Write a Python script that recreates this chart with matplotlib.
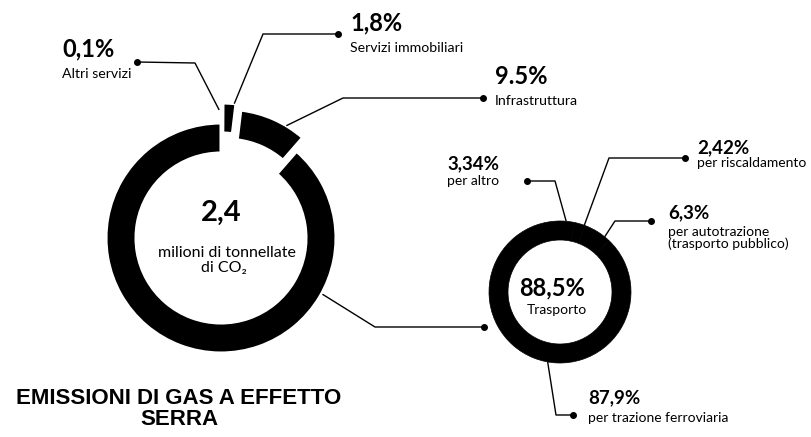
import numpy as np
import matplotlib
matplotlib.use("Agg")
import matplotlib.pyplot as plt

W, H = 811, 437

# emissioni totali per settore (%)
big_labels = ["Altri servizi", "Servizi immobiliari", "Infrastruttura", "Trasporto"]
big_values = [0.1, 1.8, 9.5, 88.5]
big_pct = ["0,1%", "1,8%", "9.5%", None]
big_explode = [20, 20, 15, 0]  # offset in pixels

# dettaglio del trasporto (%)
tr_labels = ["per altro", "per riscaldamento", "per autotrazione\n(trasporto pubblico)",
             "per trazione ferroviaria"]
tr_values = [3.34, 2.42, 6.3, 87.9]
tr_pct = ["3,34%", "2,42%", "6,3%", "87,9%"]

total_mt = "2,4"
trasporto_pct = "88,5%"

FONT = ["Lato", "DejaVu Sans"]


def yy(y):
    # pixel rows from the top -> data y
    return H - y


def ring_point(wedge, deg_from_top, r=None):
    cx, cy = wedge.center
    r = wedge.r if r is None else r
    a = np.deg2rad(90 - deg_from_top)
    return cx + r * np.cos(a), cy + r * np.sin(a)


def leader(ax, start, elbow, dot):
    xs = [start[0], elbow[0], dot[0]]
    ys = [start[1], yy(elbow[1]), yy(dot[1])]
    ax.plot(xs, ys, color="black", lw=1.0, solid_capstyle="butt", zorder=3)
    ax.plot(dot[0], yy(dot[1]), "o", color="black", ms=4, zorder=3)


fig = plt.figure(figsize=(W / 100, H / 100), dpi=100)
ax = fig.add_axes([0, 0, 1, 1])

# big ring
big_c = (221, yy(238))
big_w, _ = ax.pie(big_values, radius=115, center=big_c, startangle=90,
                  counterclock=False, explode=big_explode,
                  colors=["black"] * 4,
                  wedgeprops=dict(width=30, edgecolor="white", linewidth=2.2))

# small ring
tr_c = (560, yy(292))
tr_w, _ = ax.pie(tr_values, radius=71, center=tr_c, startangle=90,
                 counterclock=False, colors=["black"] * 4,
                 wedgeprops=dict(width=19, edgecolor="black", linewidth=0.5))

ax.set_xlim(0, W)
ax.set_ylim(0, H)
ax.set_aspect("equal")
ax.axis("off")

# leader lines: anchor angle/radius on each wedge, elbow, end dot (pixel rows)
big_anchor = [-1, 6, 31, 119]
big_r = [108, 115, 115, 116]
big_elbow = [(195, 63), (263, 34), (343, 98), (375, 327)]
big_dot = [(137, 62), (338, 34), (483, 98), (484, 327)]
for w, a, r, e, d in zip(big_w, big_anchor, big_r, big_elbow, big_dot):
    leader(ax, ring_point(w, a, r), e, d)

tr_anchor = [5, 20, 39, 190]
tr_elbow = [(555, 181), (609, 158), (615, 221), (556, 415)]
tr_dot = [(527, 181), (685, 158), (651, 221), (573, 415)]
for w, a, e, d in zip(tr_w, tr_anchor, tr_elbow, tr_dot):
    leader(ax, ring_point(w, a), e, d)

# labels for the big ring
big_txt_pos = [(62, 49, 74), (350, 23, 48), (495, 76, 101)]
for (x, y1, y2), pct, lab in zip(big_txt_pos, big_pct[:3], big_labels[:3]):
    ax.text(x, yy(y1), pct, fontsize=17, fontweight="bold", family=FONT,
            ha="left", va="center")
    ax.text(x, yy(y2), lab, fontsize=10.2, family=FONT, ha="left", va="center")

ax.text(221, yy(213), total_mt, fontsize=21, fontweight="bold", family=FONT,
        ha="center", va="center")
ax.text(227, yy(253), "milioni di tonnellate", fontsize=11.5, family=FONT,
        ha="center", va="center")
ax.text(224, yy(268), "di CO\u2082", fontsize=11.5, family=FONT,
        ha="center", va="center")

# labels for the small ring
tr_txt_pos = [(447, 164, 181), (697, 148, 163), (668, 213, 238), (588, 398, 418)]
for (x, y1, y2), pct, lab in zip(tr_txt_pos, tr_pct, tr_labels):
    ax.text(x, yy(y1), pct, fontsize=13.5, fontweight="bold", family=FONT,
            ha="left", va="center")
    ax.text(x, yy(y2), lab, fontsize=10, family=FONT, ha="left", va="center",
            linespacing=1.0)

ax.text(552, yy(288), trasporto_pct, fontsize=17, fontweight="bold",
        family=FONT, ha="center", va="center")
ax.text(557, yy(310), "Trasporto", fontsize=10, family=FONT,
        ha="center", va="center")

ax.text(179, yy(409), "EMISSIONI DI GAS A EFFETTO\nSERRA", fontsize=16,
        fontweight="bold", family=["Liberation Sans", "DejaVu Sans"],
        ha="center", va="center", multialignment="center", linespacing=1.0)

fig.savefig("out.png", dpi=100, facecolor="white")
